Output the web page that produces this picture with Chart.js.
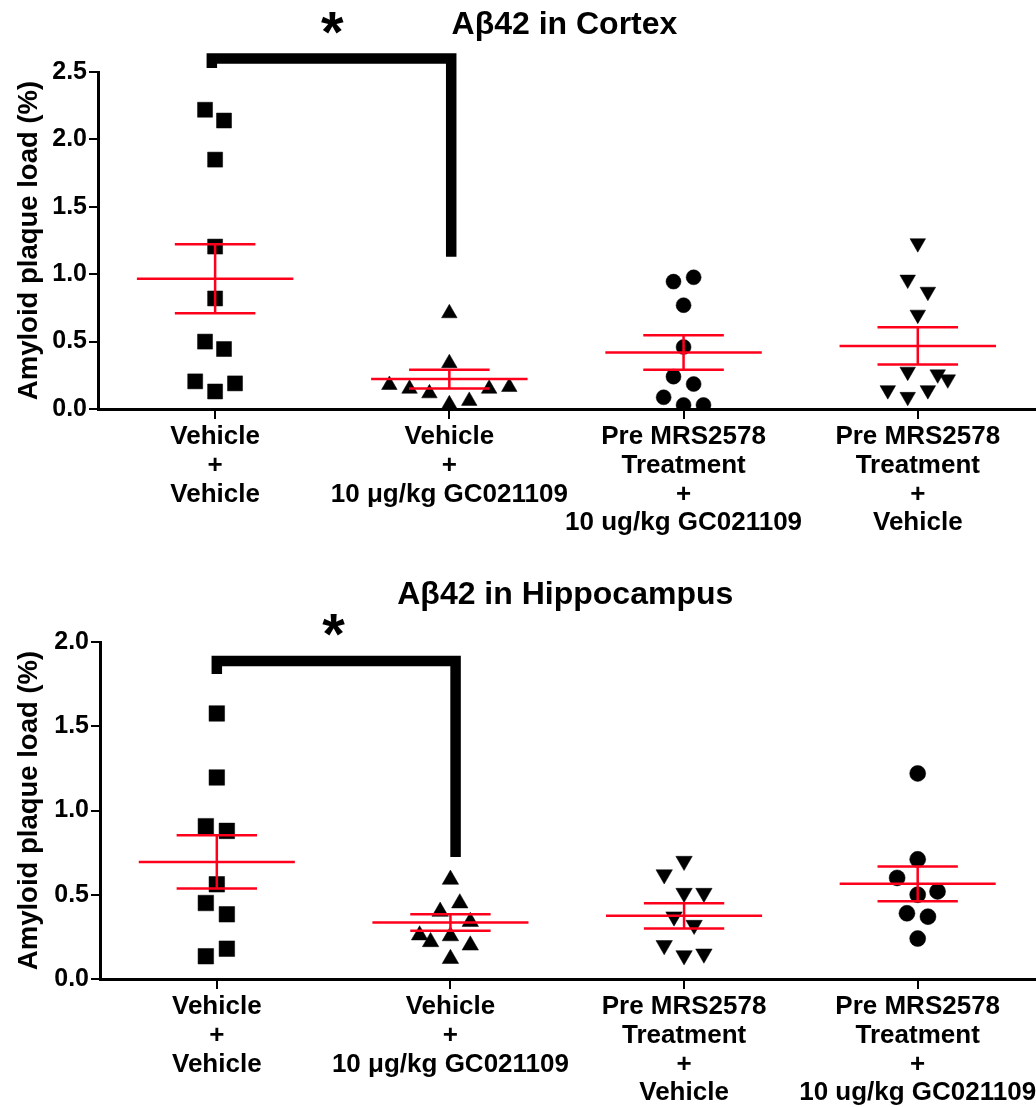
<!DOCTYPE html>
<html><head><meta charset="utf-8">
<script src="https://cdn.jsdelivr.net/npm/chart.js@4.4.1/dist/chart.umd.min.js"></script>
<style>
html,body{margin:0;padding:0;background:#fff;overflow:hidden;width:1036px;height:1107px;}
.wrap{position:absolute;left:0;width:1046px;}
#w1{top:0;height:550px;}
#w2{top:550px;height:557px;}
</style></head><body>
<div class="wrap" id="w1"><canvas id="c1"></canvas></div>
<div class="wrap" id="w2"><canvas id="c2"></canvas></div>
<script>
// ---------------- DATA ----------------
const cortexLabels = [
  ["Vehicle", "+", "Vehicle"],
  ["Vehicle", "+", "10 \u03bcg/kg GC021109"],
  ["Pre MRS2578", "Treatment", "+", "10 ug/kg GC021109"],
  ["Pre MRS2578", "Treatment", "+", "Vehicle"]
];
const hippoLabels = [
  ["Vehicle", "+", "Vehicle"],
  ["Vehicle", "+", "10 \u03bcg/kg GC021109"],
  ["Pre MRS2578", "Treatment", "+", "Vehicle"],
  ["Pre MRS2578", "Treatment", "+", "10 ug/kg GC021109"]
];
const yTicksCortex = [0, 0.5, 1.0, 1.5, 2.0, 2.5];
const yTicksHippo = [0, 0.5, 1.0, 1.5, 2.0];

// Cortex values (%), with horizontal scatter offsets (category units)
const cortexVehVeh = [2.22, 2.14, 1.85, 1.205, 0.82, 0.50, 0.445, 0.205, 0.13, 0.19];
const cortexVehVehJit = [-0.043, 0.038, 0, 0, 0, -0.043, 0.038, -0.085, 0, 0.085];
const cortexVehGC = [0.71, 0.34, 0.178, 0.15, 0.116, 0.035, 0.06, 0.15, 0.163];
const cortexVehGCJit = [0, 0, -0.256, -0.17, -0.085, 0, 0.085, 0.17, 0.256];
const cortexMrsGC = [0.945, 0.977, 0.77, 0.46, 0.24, 0.185, 0.087, 0.03, 0.03];
const cortexMrsGCJit = [-0.043, 0.043, 0, 0, -0.043, 0.043, -0.085, 0, 0.085];
const cortexMrsVeh = [1.23, 0.96, 0.87, 0.70, 0.277, 0.257, 0.22, 0.14, 0.09, 0.14];
const cortexMrsVehJit = [0, -0.043, 0.043, 0, -0.043, 0.085, 0.128, -0.128, -0.043, 0.043];
const cortexMean = [0.966, 0.222, 0.42, 0.468];
const cortexSEM = [0.256, 0.069, 0.128, 0.138];
const cortexBracket = {x1: -0.014, x2: 1.008, top: 2.60, leftEnd: 2.53, rightEnd: 1.13};
const cortexStar = {x: 0.5, y: 2.86};

// Hippocampus values (%)
const hippoVehVeh = [1.576, 1.196, 0.907, 0.879, 0.562, 0.451, 0.384, 0.18, 0.135];
const hippoVehVehJit = [0, 0, -0.047, 0.043, 0, -0.047, 0.043, 0.043, -0.047];
const hippoVehGC = [0.59, 0.45, 0.40, 0.34, 0.26, 0.22, 0.255, 0.20, 0.12];
const hippoVehGCJit = [0, 0.04, -0.044, 0.085, -0.132, -0.085, 0, 0.085, 0];
const hippoMrsVeh = [0.70, 0.62, 0.51, 0.51, 0.37, 0.32, 0.20, 0.14, 0.15];
const hippoMrsVehJit = [0, -0.085, 0, 0.085, -0.043, 0.043, -0.085, 0, 0.085];
const hippoMrsGC = [1.22, 0.71, 0.60, 0.52, 0.50, 0.39, 0.37, 0.24];
const hippoMrsGCJit = [0, 0, -0.088, 0.085, 0, -0.046, 0.044, 0];
const hippoMean = [0.695, 0.336, 0.375, 0.565];
const hippoSEM = [0.158, 0.049, 0.075, 0.103];
const hippoBracket = {x1: 0, x2: 1.022, top: 1.887, leftEnd: 1.81, rightEnd: 0.724};
const hippoStar = {x: 0.5, y: 2.10};

// ---------------- RENDERING ----------------
const FONT = '"Liberation Sans", Arial, Helvetica, sans-serif';
const RED = 'rgb(255,0,28)';
const MEAN_HALF = 0.334, CAP_HALF = 0.172;

function pts(group, vals, jit) {
  return vals.map((v, i) => ({x: group + jit[i], y: v}));
}
function errSegments(means, sems) {
  const d = [];
  means.forEach((m, i) => {
    const s = sems[i];
    d.push({x: i - MEAN_HALF, y: m}, {x: i + MEAN_HALF, y: m}, {x: i, y: null});
    d.push({x: i - CAP_HALF, y: m + s}, {x: i + CAP_HALF, y: m + s}, {x: i, y: null});
    d.push({x: i - CAP_HALF, y: m - s}, {x: i + CAP_HALF, y: m - s}, {x: i, y: null});
    d.push({x: i, y: m - s}, {x: i, y: m + s}, {x: i, y: null});
  });
  return d;
}
function scatterDs(data, style, radius, rot) {
  return {type: 'scatter', data, pointStyle: style, pointRadius: radius, pointRotation: rot || 0,
    pointBackgroundColor: '#000', pointBorderColor: '#000', pointBorderWidth: 0.5,
    pointHoverRadius: radius, showLine: false, order: 2};
}

const annot = {
  id: 'annot',
  afterDatasetsDraw(chart, args, opts) {
    const {ctx, chartArea, scales} = chart;
    ctx.save();
    ctx.fillStyle = '#000';
    ctx.font = 'bold 32px ' + FONT;
    ctx.textAlign = 'center';
    ctx.textBaseline = 'alphabetic';
    ctx.fillText(opts.title, (chartArea.left + chartArea.right) / 2 - 2, opts.titleBaseline);
    ctx.font = 'bold 58px ' + FONT;
    const m = ctx.measureText('*');
    const x = scales.x.getPixelForValue(opts.star.x), y = scales.y.getPixelForValue(opts.star.y);
    ctx.fillText('*', x, y + (m.actualBoundingBoxAscent - m.actualBoundingBoxDescent) / 2);
    ctx.restore();
  }
};

function makeChart(id, c) {
  const b = c.bracket;
  return new Chart(document.getElementById(id), {
    type: 'scatter',
    data: {
      datasets: [
        {type: 'line', data: errSegments(c.means, c.sems), borderColor: RED, borderWidth: 2.5,
          pointRadius: 0, spanGaps: false, tension: 0, order: 0, clip: false},
        {type: 'line', data: [{x: b.x1, y: b.leftEnd}, {x: b.x1, y: b.top}, {x: b.x2, y: b.top}, {x: b.x2, y: b.rightEnd}],
          borderColor: '#000', borderWidth: 10.5, borderJoinStyle: 'miter', borderCapStyle: 'butt',
          pointRadius: 0, tension: 0, order: 0, clip: false},
        ...c.groups
      ]
    },
    options: {
      responsive: true, maintainAspectRatio: false, animation: false, devicePixelRatio: 1,
      layout: {padding: {left: 0, top: c.padTop, right: c.padRight, bottom: 0}},
      plugins: {legend: {display: false}, tooltip: {enabled: false},
        annot: {title: c.title, titleBaseline: c.titleBaseline, star: c.star}},
      scales: {
        x: {
          type: 'linear', min: -0.5, max: 3.5,
          afterBuildTicks: s => { s.ticks = [0, 1, 2, 3].map(v => ({value: v})); },
          afterFit: s => { s.height = c.xHeight; },
          ticks: {autoSkip: false, maxRotation: 0, minRotation: 0, padding: 4, color: '#000',
            font: {family: FONT, size: 26, weight: 'bold', lineHeight: 1.1},
            callback: (v) => c.labels[Math.round(v)]},
          grid: {display: true, drawOnChartArea: false, drawTicks: true, tickLength: 10, color: '#000', lineWidth: 2},
          border: {display: true, color: '#000', width: 3}
        },
        y: {
          type: 'linear', min: 0, max: c.yMax,
          afterBuildTicks: s => { s.ticks = c.yTicks.map(v => ({value: v})); },
          afterFit: s => { s.width = c.yWidth; },
          ticks: {padding: 2, color: '#000', font: {family: FONT, size: 25, weight: 'bold'},
            callback: v => Number(v).toFixed(1)},
          grid: {display: true, drawOnChartArea: false, drawTicks: true, tickLength: 9, color: '#000', lineWidth: 2},
          border: {display: true, color: '#000', width: 3},
          title: {display: true, text: 'Amyloid plaque load (%)', color: '#000',
            font: {family: FONT, size: 27.5, weight: 'bold'}, padding: {top: 13, bottom: 0}}
        }
      }
    },
    plugins: [annot]
  });
}

makeChart('c1', {
  labels: cortexLabels, yMax: 2.5, yTicks: yTicksCortex,
  means: cortexMean, sems: cortexSEM, bracket: cortexBracket, star: cortexStar,
  title: 'A\u03b242 in Cortex', titleBaseline: 34,
  padTop: 72, padRight: 9, xHeight: 141, yWidth: 98,
  groups: [
    scatterDs(pts(0, cortexVehVeh, cortexVehVehJit), 'rect', 10.6),
    scatterDs(pts(1, cortexVehGC, cortexVehGCJit), 'triangle', 9),
    scatterDs(pts(2, cortexMrsGC, cortexMrsGCJit), 'circle', 7.5),
    scatterDs(pts(3, cortexMrsVeh, cortexMrsVehJit), 'triangle', 9, 180)
  ]
});
makeChart('c2', {
  labels: hippoLabels, yMax: 2.0, yTicks: yTicksHippo,
  means: hippoMean, sems: hippoSEM, bracket: hippoBracket, star: hippoStar,
  title: 'A\u03b242 in Hippocampus', titleBaseline: 54,
  padTop: 92, padRight: 7, xHeight: 128, yWidth: 100,
  groups: [
    scatterDs(pts(0, hippoVehVeh, hippoVehVehJit), 'rect', 11),
    scatterDs(pts(1, hippoVehGC, hippoVehGCJit), 'triangle', 9.5),
    scatterDs(pts(2, hippoMrsVeh, hippoMrsVehJit), 'triangle', 9.5, 180),
    scatterDs(pts(3, hippoMrsGC, hippoMrsGCJit), 'circle', 8)
  ]
});
</script>
</body></html>
